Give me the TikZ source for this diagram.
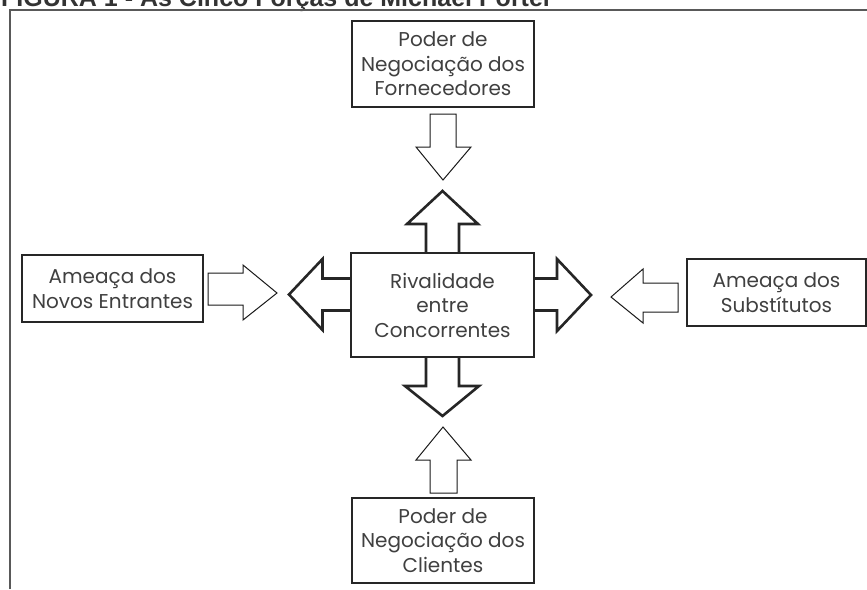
\documentclass[tikz,border=0pt]{standalone}
\usepackage{fontspec}
\setmainfont{Poppins}
\newfontfamily\titlefont{Liberation Sans}
\begin{document}
\begin{tikzpicture}[x=1pt,y=-1pt,
  txt/.style={font=\fontsize{20}{24.5}\selectfont, text=black!75, align=center},
  fbox/.style={draw=black!85, line width=1.3pt, fill=white, inner sep=0pt},
  thin/.style={draw=black!90, line width=1pt, line join=miter},
  thick/.style={draw=black!85, line width=2.6pt, line join=miter}]
\useasboundingbox (0,0) rectangle (867,589);
\clip (0,0) rectangle (867,589);
% title (cropped at top, as in the reference)
\node[anchor=base west, inner sep=0pt, font=\titlefont\bfseries\fontsize{25}{27}\selectfont, text=black!80] (title) at (1,6) {FIGURA 1 - As Cinco Forças de Michael Porter};
% frame
\draw[draw=black!65, line width=1.4pt] (10,589) -- (10,10) -- (867,10);
% thick arrows from centre
\draw[thick] (426,253) -- (426,224) -- (407,224) -- (442.5,191) -- (478,224) -- (459,224) -- (459,253);
\draw[thick] (426,357) -- (426,386) -- (405,386) -- (442.5,416) -- (479,386) -- (459,386) -- (459,357);
\draw[thick] (351,278.5) -- (322.5,278.5) -- (322.5,259) -- (289,294.5) -- (322.5,330) -- (322.5,310.5) -- (351,310.5);
\draw[thick] (534,278.5) -- (557,278.5) -- (557,259) -- (591,295) -- (557,331) -- (557,310.5) -- (534,310.5);
% boxes
\node[fbox, minimum width=183pt, minimum height=104pt, txt] (rival) at (442.5,305) {Rivalidade\\entre\\Concorrentes};
\node[fbox, minimum width=182pt, minimum height=86pt, txt] (forn) at (443,64) {Poder de\\Negociação dos\\Fornecedores};
\node[fbox, minimum width=182pt, minimum height=85pt, txt] (cli) at (443,540.5) {Poder de\\Negociação dos\\Clientes};
\node[fbox, minimum width=181pt, minimum height=67pt, txt] (novos) at (112.5,288.5) {Ameaça dos\\Novos Entrantes};
\node[fbox, minimum width=179pt, minimum height=67pt, txt] (subst) at (776.5,292.5) {Ameaça dos\\Substítutos};
% thin arrows
\draw[thin] (430,114) -- (456,114) -- (456,147) -- (471,147) -- (443,180) -- (416,147) -- (430,147) -- cycle;
\draw[thin] (430,493) -- (457,493) -- (457,460) -- (471,460) -- (443,427) -- (416,460) -- (430,460) -- cycle;
\draw[thin] (208,273) -- (243,273) -- (243,265) -- (277,293) -- (243,320) -- (243,305) -- (208,305) -- cycle;
\draw[thin] (678,283) -- (643,283) -- (643,269) -- (611,297) -- (643,323) -- (643,312) -- (678,312) -- cycle;
\end{tikzpicture}
\end{document}
